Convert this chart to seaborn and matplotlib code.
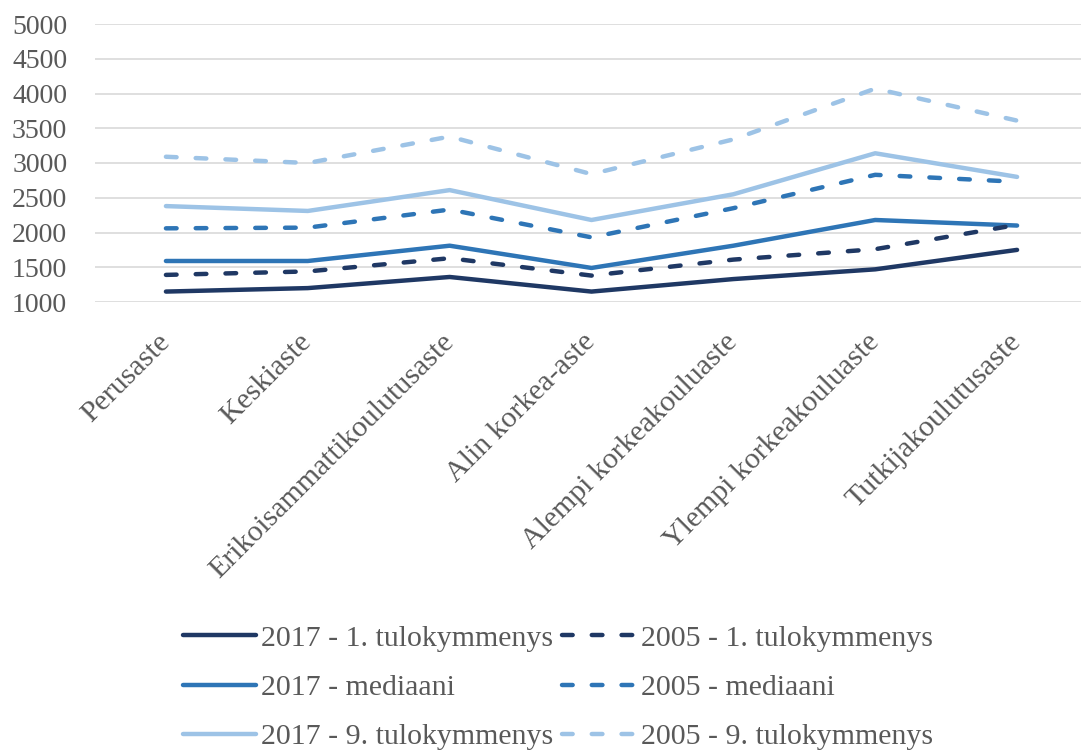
import matplotlib
matplotlib.use("Agg")
import matplotlib.pyplot as plt
import seaborn as sns
import pandas as pd
from matplotlib.lines import Line2D

categories = ["Perusaste", "Keskiaste", "Erikoisammattikoulutusaste", "Alin korkea-aste",
              "Alempi korkeakouluaste", "Ylempi korkeakouluaste", "Tutkijakoulutusaste"]

d2017_1 = [1150, 1200, 1360, 1150, 1330, 1470, 1750]
d2005_1 = [1390, 1440, 1630, 1380, 1610, 1760, 2110]
d2017_med = [1590, 1590, 1810, 1490, 1810, 2180, 2100]
d2005_med = [2060, 2070, 2330, 1930, 2350, 2830, 2730]
d2017_9 = [2380, 2310, 2610, 2180, 2550, 3140, 2800]
d2005_9 = [3090, 3000, 3380, 2840, 3340, 4070, 3610]

y_ticks = [1000, 1500, 2000, 2500, 3000, 3500, 4000, 4500, 5000]

dark = "#1f3864"
mid = "#2e75b6"
light = "#9dc3e6"
text_col = "#595959"

sns.set_theme(style="white")
plt.rcParams["font.family"] = ["Liberation Serif", "DejaVu Serif"]

# order matters for the legend (column-major, 2 columns)
series = [
    ("2017 - 1. tulokymmenys", d2017_1, dark, "-"),
    ("2017 - mediaani", d2017_med, mid, "-"),
    ("2017 - 9. tulokymmenys", d2017_9, light, "-"),
    ("2005 - 1. tulokymmenys", d2005_1, dark, "--"),
    ("2005 - mediaani", d2005_med, mid, "--"),
    ("2005 - 9. tulokymmenys", d2005_9, light, "--"),
]

fig = plt.figure(figsize=(10.81, 7.53), dpi=100)
ax = fig.add_axes([95 / 1081, 1 - 302 / 753, 993 / 1081, 278 / 753])

dash = (0, (2.4, 4.3))
handles = []
for label, vals, col, ls in series:
    df = pd.DataFrame({"x": range(len(categories)), "y": vals})
    style = "-" if ls == "-" else dash
    sns.lineplot(data=df, x="x", y="y", ax=ax, color=col, linewidth=3.2,
                 linestyle=style, dash_capstyle="round", solid_capstyle="round",
                 legend=False)
    handles.append(Line2D([0], [0], color=col, linewidth=3.2, linestyle=style,
                          dash_capstyle="round", solid_capstyle="round"))

ax.set_xlim(-0.5, len(categories) - 0.5)
ax.set_ylim(1000, 5000)
ax.set_yticks(y_ticks)
ax.set_yticklabels([str(t) for t in y_ticks])
ax.set_xticks(range(len(categories)))
ax.set_xticklabels(categories, rotation=45, ha="right", va="center",
                   rotation_mode="anchor", fontsize=21.5)
ax.set_xlabel("")
ax.set_ylabel("")
ax.yaxis.grid(True, color="#d9d9d9", linewidth=1.2)
ax.xaxis.grid(False)
ax.set_axisbelow(True)
for s in ax.spines.values():
    s.set_visible(False)
ax.tick_params(axis="y", length=0, pad=20, labelsize=20, labelcolor=text_col)
ax.tick_params(axis="x", length=0, pad=26, labelcolor=text_col)

labels = [s[0] for s in series]
leg = fig.legend(handles, labels, ncol=2, loc="upper left",
                 bbox_to_anchor=(183 / 1081, 1 - 625 / 753), frameon=False,
                 fontsize=21.5, handlelength=2.45, handletextpad=0.17,
                 columnspacing=0.3, labelspacing=0.75, borderpad=0,
                 borderaxespad=0)
for t in leg.get_texts():
    t.set_color(text_col)

fig.savefig("out.png", dpi=100)
